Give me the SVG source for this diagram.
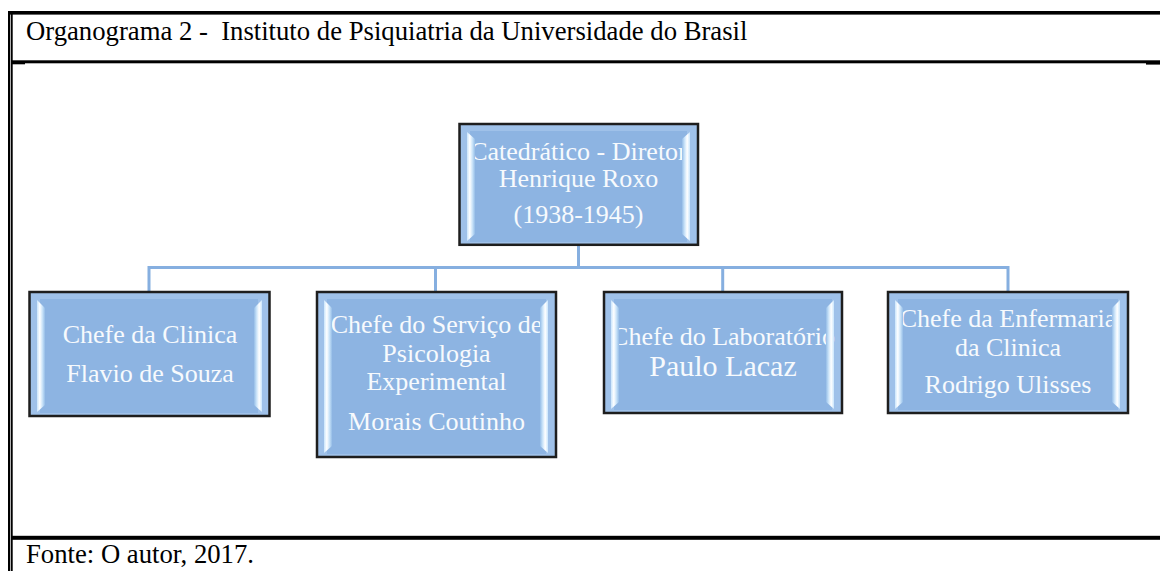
<svg xmlns="http://www.w3.org/2000/svg" width="1160" height="571" viewBox="0 0 1160 571">
  <style>
    .frame { fill: #000000; }
    .caption { font-family: "Liberation Serif", "Times New Roman", serif; font-size: 26.7px; fill: #000000; white-space: pre; }
    .box { fill: #9FC1E9; stroke: #1E1E1E; stroke-width: 2.5; }
    .face { fill: #8DB4E2; }
    .lstrip { fill: url(#gl); }
    .rstrip { fill: url(#gr); }
    .lbl { font-family: "Liberation Serif", "Times New Roman", serif; font-size: 26px; fill: #F7FAFD; text-anchor: middle; }
    .big { font-size: 30px; }
    .conn { fill: none; stroke: #86AFE0; stroke-width: 3; }
  </style>
  <defs>
    <linearGradient id="gl" x1="0" y1="0" x2="1" y2="0">
      <stop offset="0" stop-color="#C9E5FC"/>
      <stop offset="0.35" stop-color="#FFFFFF"/>
      <stop offset="0.7" stop-color="#C6E1F8"/>
      <stop offset="1" stop-color="#95BDE7"/>
    </linearGradient>
    <linearGradient id="gr" x1="0" y1="0" x2="1" y2="0">
      <stop offset="0" stop-color="#95BDE7"/>
      <stop offset="0.3" stop-color="#C6E1F8"/>
      <stop offset="0.65" stop-color="#FFFFFF"/>
      <stop offset="1" stop-color="#C9E5FC"/>
    </linearGradient>
  </defs>
  <rect width="1160" height="571" fill="#FFFFFF"/>

  <!-- frame -->
  <g id="frame">
    <rect class="frame" x="8" y="11" width="1152" height="3.6"/>
    <rect class="frame" x="8" y="11" width="2.3" height="560"/>
    <rect class="frame" x="11" y="11" width="1.7" height="560"/>
    <rect class="frame" x="11" y="60.3" width="1149" height="3"/>
    <rect class="frame" x="12" y="62" width="13" height="2.3"/>
    <rect class="frame" x="1146" y="62" width="14" height="2.6"/>
    <rect class="frame" x="11" y="535.8" width="1149" height="4"/>
    <text class="caption" x="26" y="39.5" xml:space="preserve">Organograma 2 -  Instituto de Psiquiatria da Universidade do Brasil</text>
    <text class="caption" x="26" y="563">Fonte: O autor, 2017.</text>
  </g>

  <!-- connectors -->
  <g id="connectors">
    <path class="conn" d="M578.5 246 V267.5"/>
    <path class="conn" d="M149 291 V267.5 H1008 V291"/>
    <path class="conn" d="M435.5 267.5 V291"/>
    <path class="conn" d="M722.7 267.5 V291"/>
  </g>

  <!-- top node -->
  <g id="node-diretor">
    <rect class="box" x="459.5" y="124" width="238.5" height="120.8"/>
    <rect class="face" x="470" y="131" width="217" height="111"/>
    <text class="lbl" x="578.5" y="160">Catedrático - Diretor</text>
    <text class="lbl" x="578.5" y="187">Henrique Roxo</text>
    <text class="lbl" x="578.5" y="223">(1938-1945)</text>
    <polygon class="lstrip" points="467,132 475,139 475,234 467,241"/>
    <polygon class="rstrip" points="690,132 682,139 682,234 690,241"/>
  </g>

  <!-- child 1 -->
  <g id="node-clinica">
    <rect class="box" x="29.5" y="292" width="240" height="124"/>
    <rect class="face" x="40" y="299" width="218" height="114"/>
    <text class="lbl" x="150" y="343.3">Chefe da Clinica</text>
    <text class="lbl" x="150" y="381.7">Flavio de Souza</text>
    <polygon class="lstrip" points="37,300 45,308 45,405 37,412"/>
    <polygon class="rstrip" points="262,300 254,308 254,405 262,412"/>
  </g>

  <!-- child 2 -->
  <g id="node-psicologia">
    <rect class="box" x="317" y="292" width="239" height="165"/>
    <rect class="face" x="327" y="299" width="219" height="155"/>
    <text class="lbl" x="436.5" y="333.3">Chefe do Serviço de</text>
    <text class="lbl" x="436.5" y="361.7">Psicologia</text>
    <text class="lbl" x="436.5" y="390">Experimental</text>
    <text class="lbl" x="436.5" y="430">Morais Coutinho</text>
    <polygon class="lstrip" points="324,300 332,308 332,446 324,453"/>
    <polygon class="rstrip" points="548,300 540,308 540,446 548,453"/>
  </g>

  <!-- child 3 -->
  <g id="node-laboratorio">
    <rect class="box" x="604" y="292" width="238" height="121"/>
    <rect class="face" x="614" y="299" width="218" height="111"/>
    <text class="lbl" x="723" y="345">Chefe do Laboratório</text>
    <text class="lbl big" x="723" y="376">Paulo Lacaz</text>
    <polygon class="lstrip" points="611,300 619,308 619,402 611,409"/>
    <polygon class="rstrip" points="834,300 826,308 826,402 834,409"/>
  </g>

  <!-- child 4 -->
  <g id="node-enfermaria">
    <rect class="box" x="888" y="292" width="240" height="121"/>
    <rect class="face" x="898" y="299" width="220" height="111"/>
    <text class="lbl" x="1008" y="327.3">Chefe da Enfermaria</text>
    <text class="lbl" x="1008" y="356">da Clinica</text>
    <text class="lbl" x="1008" y="393.3">Rodrigo Ulisses</text>
    <polygon class="lstrip" points="895,300 903,308 903,402 895,409"/>
    <polygon class="rstrip" points="1120,300 1112,308 1112,402 1120,409"/>
  </g>
</svg>
